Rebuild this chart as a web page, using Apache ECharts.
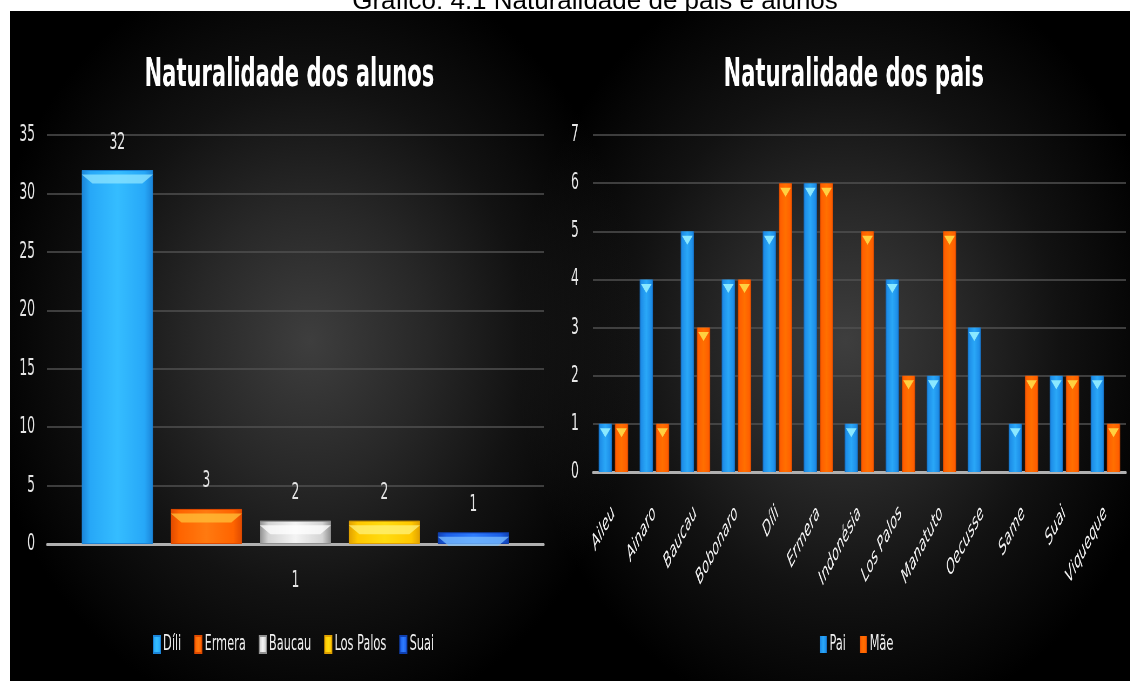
<!DOCTYPE html>
<html>
<head>
<meta charset="utf-8">
<script src="https://cdn.jsdelivr.net/npm/echarts@6/dist/echarts.min.js"></script>
<style>
    html, body { margin: 0; padding: 0; background: #fff; }
    #wrap { position: relative; width: 1130px; height: 681px; overflow: hidden; }
    #fundo {
        position: absolute; left: 10px; top: 11px; width: 1120px; height: 670px;
        background-color: #000;
        background-image:
            radial-gradient(ellipse 330px 390px at 300px 330px, rgba(62,62,62,1) 0%, rgba(44,44,44,0.9) 35%, rgba(30,30,30,0.6) 65%, rgba(0,0,0,0) 100%),
            radial-gradient(ellipse 330px 390px at 835px 330px, rgba(62,62,62,1) 0%, rgba(44,44,44,0.9) 35%, rgba(30,30,30,0.6) 65%, rgba(0,0,0,0) 100%);
    }
    /* a imagem original está comprimida na horizontal */
    #main { position: absolute; left: 0; top: 0; width: 2093px; height: 681px; transform: scaleX(0.54); transform-origin: 0 0; }
    #titulo {
        position: absolute; left: 0; width: 1190px; top: -13px; text-align: center;
        font: 26px/26px "Liberation Sans", Arial, sans-serif; color: #000; white-space: nowrap;
    }
</style>
</head>
<body>
<div id="wrap">
    <div id="fundo"></div>
    <div id="main"></div>
    <div id="titulo">Gráfico: 4.1 Naturalidade de pais e alunos</div>
</div>
<script>
// dados do gráfico dos alunos
const alunosCategoria = ['1'];
const alunosLocais = ['Díli', 'Ermera', 'Baucau', 'Los Palos', 'Suai'];
const alunosValores = [32, 3, 2, 2, 1];

// dados do gráfico dos pais
const paisLocais = ['Aileu', 'Ainaro', 'Baucau', 'Bobonaro', 'Díli', 'Ermera', 'Indonésia',
    'Los Palos', 'Manatuto', 'Oecusse', 'Same', 'Suai', 'Viqueque'];
const paiValores = [1, 4, 5, 4, 5, 6, 1, 4, 2, 3, 1, 2, 2];
const maeValores = [1, 1, 3, 4, 6, 6, 5, 2, 5, 0, 2, 2, 1];

const fonte = '"DejaVu Sans", sans-serif';

// cores das barras: [centro, corpo, borda, bisel]
const alunosCores = [
    ['#35bdff', '#27a8f8', '#1b84d8', '#8fe6ff'],
    ['#ff7a10', '#ff6400', '#e04a00', '#ffc23a'],
    ['#f4f4f4', '#d4d4d4', '#909090', '#ffffff'],
    ['#ffdc10', '#ffc800', '#e0a000', '#fff27a'],
    ['#2e7cff', '#1c5fe6', '#1040b0', '#7cc0ff']
];
const paiCor = ['#2aa8f8', '#1e8ee8', '#1468b8', '#8ae8ff'];
const maeCor = ['#ff7000', '#ff5f00', '#c84400', '#ffd040'];

function grad(c) {
    return new echarts.graphic.LinearGradient(0, 0, 1, 0, [
        { offset: 0, color: c[2] },
        { offset: 0.12, color: c[1] },
        { offset: 0.5, color: c[0] },
        { offset: 0.88, color: c[1] },
        { offset: 1, color: c[2] }
    ]);
}

const chart = echarts.init(document.getElementById('main'));

const series = [];
alunosLocais.forEach((nome, i) => {
    series.push({
        name: nome,
        type: 'bar',
        xAxisIndex: 0,
        yAxisIndex: 0,
        barCategoryGap: '14%',
        barGap: '25%',
        data: [alunosValores[i]],
        itemStyle: { color: grad(alunosCores[i]), borderColor: alunosCores[i][2], borderWidth: 1 },
        label: {
            show: true,
            position: 'top',
            distance: 16,
            color: '#e4e4e4',
            fontFamily: fonte,
            fontSize: 23
        }
    });
});
alunosLocais.forEach((nome, i) => {
    series.push({
        name: nome + ' bisel',
        type: 'pictorialBar',
        xAxisIndex: 0,
        yAxisIndex: 0,
        barCategoryGap: '14%',
        barGap: '25%',
        symbol: 'path://M0,0 L20,0 L17,2 L3,2 Z',
        symbolSize: ['100%', 9],
        symbolPosition: 'end',
        symbolOffset: [0, '50%'],
        z: 5,
        silent: true,
        data: [alunosValores[i]],
        itemStyle: { color: alunosCores[i][3], opacity: 0.75 }
    });
});

[[paiValores, paiCor, 'Pai'], [maeValores, maeCor, 'Mãe']].forEach(([vals, cor, nome]) => {
    series.push({
        name: nome,
        type: 'bar',
        xAxisIndex: 1,
        yAxisIndex: 1,
        barCategoryGap: '28%',
        barGap: '22%',
        data: vals,
        itemStyle: { color: grad(cor) }
    });
});
[[paiValores, paiCor, 'Pai'], [maeValores, maeCor, 'Mãe']].forEach(([vals, cor, nome]) => {
    series.push({
        name: nome + ' topo',
        type: 'pictorialBar',
        xAxisIndex: 1,
        yAxisIndex: 1,
        barCategoryGap: '28%',
        barGap: '22%',
        symbol: 'triangle',
        symbolRotate: 180,
        symbolSize: ['80%', 9],
        symbolPosition: 'end',
        symbolOffset: [0, '50%'],
        z: 5,
        silent: true,
        data: vals.map(v => (v > 0 ? v : '-')),
        itemStyle: { color: cor[3] }
    });
});

const eixoY = {
    type: 'value',
    min: 0,
    axisLine: { show: false },
    axisTick: { show: false },
    splitLine: { lineStyle: { color: '#505050', width: 1.5 } }
};
const rotuloY = { color: '#e6e6e6', fontFamily: fonte, fontSize: 23 };
const legendaTexto = { color: '#f0f0f0', fontFamily: fonte, fontSize: 21 };

chart.setOption({
    backgroundColor: 'transparent',
    title: [
        {
            text: 'Naturalidade dos alunos',
            left: 531,
            textAlign: 'center',
            top: 51,
            textStyle: { color: '#fff', fontFamily: fonte, fontWeight: 'bold', fontSize: 39 }
        },
        {
            text: 'Naturalidade dos pais',
            left: 1576,
            textAlign: 'center',
            top: 51,
            textStyle: { color: '#fff', fontFamily: fonte, fontWeight: 'bold', fontSize: 39 }
        }
    ],
    legend: [
        {
            data: alunosLocais,
            left: 278,
            top: 629,
            itemWidth: 13,
            itemHeight: 17,
            itemGap: 24,
            icon: 'rect',
            textStyle: legendaTexto
        },
        {
            data: ['Pai', 'Mãe'],
            left: 1513,
            top: 629,
            itemWidth: 13,
            itemHeight: 17,
            itemGap: 26,
            icon: 'rect',
            textStyle: legendaTexto
        }
    ],
    grid: [
        { left: 87, top: 135, width: 920, height: 409 },
        { left: 1098, top: 135, width: 987, height: 337 }
    ],
    xAxis: [
        {
            type: 'category',
            gridIndex: 0,
            data: alunosCategoria,
            axisLine: { lineStyle: { color: '#b0b0b0', width: 3 } },
            axisTick: { show: false },
            axisLabel: { color: '#e6e6e6', fontFamily: fonte, fontSize: 23, margin: 26 }
        },
        {
            type: 'category',
            gridIndex: 1,
            data: paisLocais,
            axisLine: { lineStyle: { color: '#b0b0b0', width: 3 } },
            axisTick: { show: false },
            axisLabel: {
                color: '#f2f2f2',
                fontFamily: fonte,
                fontStyle: 'italic',
                fontSize: 21,
                rotate: 45,
                margin: 38,
                interval: 0
            }
        }
    ],
    yAxis: [
        Object.assign({}, eixoY, { gridIndex: 0, max: 35, interval: 5, axisLabel: Object.assign({ margin: 22 }, rotuloY) }),
        Object.assign({}, eixoY, { gridIndex: 1, max: 7, interval: 1, axisLabel: Object.assign({ margin: 26 }, rotuloY) })
    ],
    series: series
});
</script>
</body>
</html>
